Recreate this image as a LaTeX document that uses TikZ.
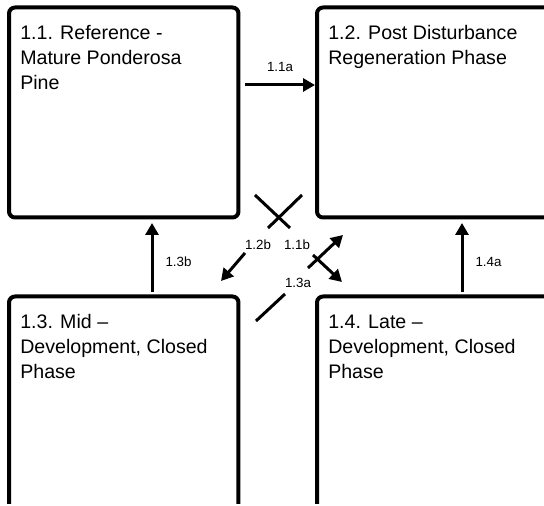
\documentclass[tikz,border=0pt]{standalone}
\usepackage{fontspec}
\setmainfont{Liberation Sans}
\usetikzlibrary{positioning,arrows.meta,calc}

\begin{document}
\begin{tikzpicture}[
    x=0.75pt, y=-0.75pt,
    box/.style={draw, rectangle, rounded corners=4.5pt, line width=3pt, outer sep=0pt, minimum width=172.1pt, minimum height=157.5pt},
    wide/.style={minimum width=177pt},
    tall/.style={minimum height=162pt},
    phase/.style={anchor=north west, inner sep=0pt, align=left, font=\fontsize{14.7}{18.75}\selectfont},
    lbl/.style={inner sep=0pt, font=\fontsize{10}{12}\selectfont},
    arrow/.style={-{Triangle[length=9pt, width=9.75pt]}, line width=2.25pt},
    link/.style={line width=2.25pt}
]
\useasboundingbox (0,0) rectangle (544,506);
\clip (0,0) rectangle (544,504);

% --- Cajas de las cuatro fases ---
\node[box] (b11) at (123.75,112.5) {};
\node[box, wide] (b12) at (435,112.5) {};
\node[box, tall] (b31) at (123.75,404.5) {};
\node[box, wide, tall] (b42) at (435,404.5) {};

% --- Textos de las fases ---
\node[phase] (t11) at ($(b11.north west)+(11,17.5)$) {1.1. Reference -\\Mature Ponderosa\\Pine};
\node[phase] (t12) at ($(b12.north west)+(11,17.5)$) {1.2. Post Disturbance\\Regeneration Phase};
\node[phase] (t31) at ($(b31.north west)+(11,18)$) {1.3. Mid --\\Development, Closed\\Phase};
\node[phase] (t42) at ($(b42.north west)+(11,18)$) {1.4. Late --\\Development, Closed\\Phase};

% --- Transiciones horizontales y verticales ---
\draw[arrow] ($(b11.north east)+(6.5,77.5)$) -- ($(b12.north west)+(-2,77.5)$) node[lbl, midway, above=9pt] {1.1a};
\draw[arrow] ($(b31.north west)+(143,-4)$) -- ($(b11.south west)+(143,5.5)$) node[lbl, pos=0.44, right=9pt] {1.3b};
\draw[arrow] ($(b42.north west)+(145,-4)$) -- ($(b12.south west)+(145,5.5)$) node[lbl, pos=0.44, right=9pt] {1.4a};

% --- Transiciones diagonales ---
\draw[link] ($(b11.south east)+(16.5,-22.5)$) -- ($(b11.south east)+(51.5,10.5)$);
\draw[link] ($(b12.south west)+(-15,-22.5)$) -- ($(b12.south west)+(-49,10.5)$);
\draw[arrow] ($(b31.north east)+(6.5,-43.5)$) -- ($(b31.north east)+(-17.5,-15.5)$);
\draw[arrow] ($(b12.south west)+(-9,50.5)$) -- ($(b12.south west)+(26,17.5)$);
\draw[arrow] ($(b42.north west)+(-4,-41.5)$) -- ($(b42.north west)+(25,-14.5)$);
\draw[link] ($(b31.north east)+(46.5,-2.5)$) -- ($(b31.north east)+(17.5,24.5)$);

% --- Etiquetas diagonales ---
\node[lbl] (l12b) at ($(b11.south east)+(19.5,27.5)$) {1.2b};
\node[lbl] (l11b) at ($(b12.south west)+(-20,27.5)$) {1.1b};
\node[lbl] (l13a) at ($(b42.north west)+(-19,-13.5)$) {1.3a};

\end{tikzpicture}
\end{document}
